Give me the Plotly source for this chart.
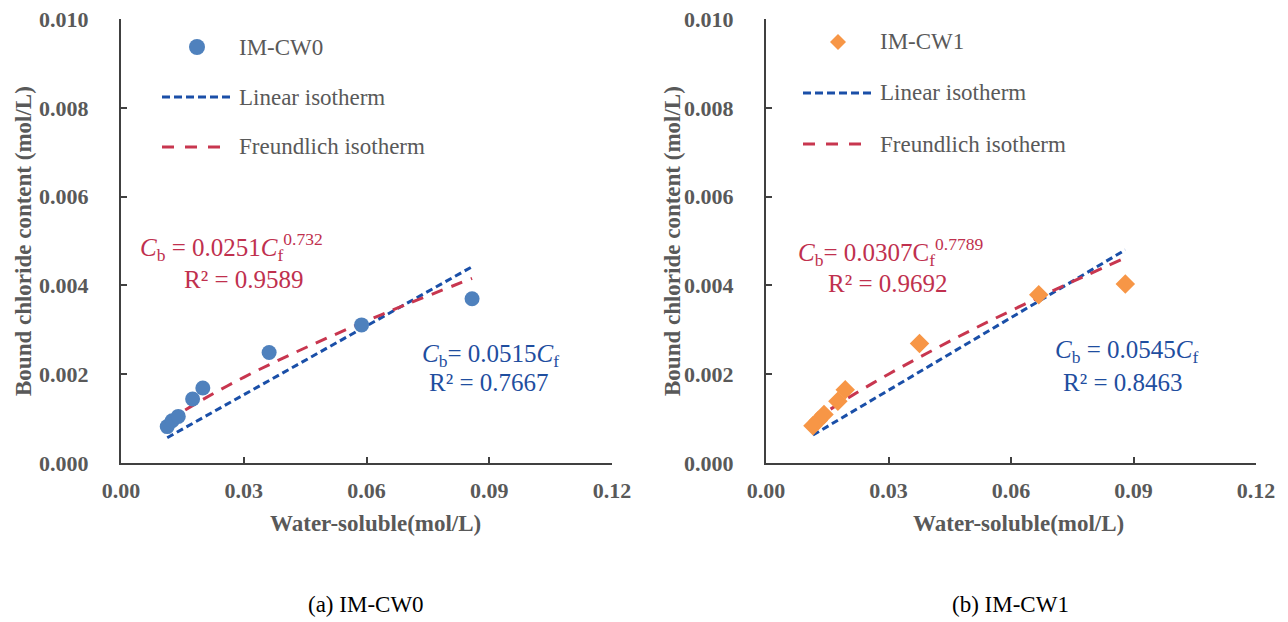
import plotly.graph_objects as go

W, H = 1288, 622

# ---------------- data ----------------
cw0_x = [0.0113, 0.0125, 0.0140, 0.0175, 0.0200, 0.0362, 0.0588, 0.0858]
cw0_y = [0.00082, 0.00095, 0.00105, 0.00144, 0.00169, 0.00249, 0.00311, 0.00370]
cw0_lin_x = [0.0113, 0.0858]
cw0_lin_y = [0.00057, 0.00442]
cw0_fr_x = [0.0113, 0.020, 0.030, 0.040, 0.050, 0.060, 0.070, 0.0858]
cw0_fr_y = [0.00094, 0.00143, 0.00193, 0.00238, 0.00280, 0.00320, 0.00358, 0.00416]

cw1_x = [0.0115, 0.0128, 0.0142, 0.0176, 0.0194, 0.0376, 0.0668, 0.0880]
cw1_y = [0.00084, 0.00096, 0.00109, 0.00139, 0.00165, 0.00269, 0.00379, 0.00403]
cw1_lin_x = [0.0115, 0.0880]
cw1_lin_y = [0.00063, 0.00480]
cw1_fr_x = [0.0115, 0.020, 0.030, 0.040, 0.050, 0.060, 0.070, 0.0880]
cw1_fr_y = [0.00095, 0.00146, 0.00200, 0.00250, 0.00298, 0.00343, 0.00387, 0.00462]

x_ticks = [0.00, 0.03, 0.06, 0.09, 0.12]
x_ticktext = ["0.00", "0.03", "0.06", "0.09", "0.12"]
y_ticks = [0.000, 0.002, 0.004, 0.006, 0.008, 0.010]
y_ticktext = ["0.000", "0.002", "0.004", "0.006", "0.008", "0.010"]

# ---------------- styles ----------------
SERIF = "Liberation Serif, Times New Roman, serif"
GRAY = "#595959"
AXC = "#404040"
BLUE_M = "#4F81BD"
ORANGE_M = "#F79646"
BLUE_L = "#1A4FA8"
RED_L = "#C8364F"
RED_T = "#C0304E"
BLUE_T = "#1F4E9F"
DASH_LIN = "7px,4px"
DASH_FR = "12px,9px"

def px(x):
    return x / W

def py(y):
    return 1 - y / H

fig = go.Figure()

def add_panel(xs, ys, lx, ly, fx, fy, xa, ya, color, symbol):
    fig.add_trace(go.Scatter(x=lx, y=ly, mode="lines", xaxis=xa, yaxis=ya,
                             line=dict(color=BLUE_L, width=3, dash=DASH_LIN),
                             showlegend=False))
    fig.add_trace(go.Scatter(x=fx, y=fy, mode="lines", xaxis=xa, yaxis=ya,
                             line=dict(color=RED_L, width=3, dash=DASH_FR, shape="spline"),
                             showlegend=False))
    fig.add_trace(go.Scatter(x=xs, y=ys, mode="markers", xaxis=xa, yaxis=ya,
                             marker=dict(color=color, size=15, symbol=symbol),
                             showlegend=False))

add_panel(cw0_x, cw0_y, cw0_lin_x, cw0_lin_y, cw0_fr_x, cw0_fr_y, "x", "y", BLUE_M, "circle")
add_panel(cw1_x, cw1_y, cw1_lin_x, cw1_lin_y, cw1_fr_x, cw1_fr_y, "x2", "y2", ORANGE_M, "diamond")

ydom = [py(463), py(19)]
axis_common = dict(showgrid=False, zeroline=False, showline=True, linecolor=AXC, linewidth=2,
                   ticks="inside", ticklen=6, tickwidth=1.5, tickcolor=AXC, automargin=False,
                   tickfont=dict(family=SERIF, size=22, color=GRAY, weight="bold"))

fig.update_layout(
    width=W, height=H, margin=dict(l=0, r=0, t=0, b=0, pad=0, autoexpand=False),
    paper_bgcolor="white", plot_bgcolor="white", showlegend=False,
    xaxis=dict(domain=[px(121), px(612)], range=[0, 0.12], tickvals=x_ticks, ticktext=x_ticktext,
               anchor="y", ticklabelstandoff=7, **axis_common),
    yaxis=dict(domain=ydom, range=[0, 0.010], tickvals=y_ticks, ticktext=y_ticktext,
               anchor="x", ticklabelstandoff=26, **axis_common),
    xaxis2=dict(domain=[px(766), px(1256)], range=[0, 0.12], tickvals=x_ticks, ticktext=x_ticktext,
                anchor="y2", ticklabelstandoff=7, **axis_common),
    yaxis2=dict(domain=ydom, range=[0, 0.010], tickvals=y_ticks, ticktext=y_ticktext,
                anchor="x2", ticklabelstandoff=26, **axis_common),
)

ann = []
shapes = []

def text(x, y, s, size, color, xanchor="center", bold=False, angle=0, family=SERIF):
    ann.append(dict(x=px(x), y=py(y), xref="paper", yref="paper", text=s, showarrow=False,
                    xanchor=xanchor, yanchor="middle", textangle=angle,
                    font=dict(family=family, size=size, color=color,
                              weight="bold" if bold else "normal")))

# axis titles
text(375, 523, "Water-soluble(mol/L)", 23, GRAY, bold=True)
text(1018, 523, "Water-soluble(mol/L)", 23, GRAY, bold=True)
text(23, 241, "Bound chloride content (mol/L)", 23, GRAY, bold=True, angle=-90)
text(672, 241, "Bound chloride content (mol/L)", 23, GRAY, bold=True, angle=-90)

# legends
def legend(x0, ys, marker_color, symbol, label):
    mx = x0 + 35
    r = 8
    if symbol == "circle":
        shapes.append(dict(type="circle", xref="paper", yref="paper",
                           x0=px(mx - r), x1=px(mx + r), y0=py(ys[0] + r), y1=py(ys[0] - r),
                           fillcolor=marker_color, line=dict(width=0)))
    else:
        path = "M {},{} L {},{} L {},{} L {},{} Z".format(
            px(mx - r), py(ys[0]), px(mx), py(ys[0] - r), px(mx + r), py(ys[0]), px(mx), py(ys[0] + r))
        shapes.append(dict(type="path", xref="paper", yref="paper", path=path,
                           fillcolor=marker_color, line=dict(width=0)))
    shapes.append(dict(type="line", xref="paper", yref="paper", x0=px(x0), x1=px(x0 + 70),
                       y0=py(ys[1]), y1=py(ys[1]), line=dict(color=BLUE_L, width=3, dash="8px,4px")))
    shapes.append(dict(type="line", xref="paper", yref="paper", x0=px(x0), x1=px(x0 + 60),
                       y0=py(ys[2]), y1=py(ys[2]), line=dict(color=RED_L, width=3, dash="12px,11px")))
    tx = x0 + 75
    text(tx, ys[0], label, 23, GRAY, xanchor="left")
    text(tx, ys[1], "Linear isotherm", 23, GRAY, xanchor="left")
    text(tx, ys[2], "Freundlich isotherm", 23, GRAY, xanchor="left")

legend(162, [47, 97, 147], BLUE_M, "circle", "IM-CW0")
legend(803, [42, 93, 144], ORANGE_M, "diamond", "IM-CW1")

# equations
text(231, 247, "<i>C</i><sub>b</sub> = 0.0251<i>C</i><sub>f</sub><sup>0.732</sup>", 25, RED_T)
text(244, 280, "R² = 0.9589", 25, RED_T)
text(490, 355, "<i>C</i><sub>b</sub>= 0.0515<i>C</i><sub>f</sub>", 25, BLUE_T)
text(489, 382, "R² = 0.7667", 25, BLUE_T)

text(890, 252, "<i>C</i><sub>b</sub>= 0.0307C<sub>f</sub><sup>0.7789</sup>", 25, RED_T)
text(888, 283, "R² = 0.9692", 25, RED_T)
text(1126, 351, "<i>C</i><sub>b</sub> = 0.0545<i>C</i><sub>f</sub>", 25, BLUE_T)
text(1123, 382, "R² = 0.8463", 25, BLUE_T)

# captions
text(366, 604, "(a) IM-CW0", 23, "#000000")
text(1010, 604, "(b) IM-CW1", 23, "#000000")

fig.update_layout(annotations=ann, shapes=shapes)
fig.write_html("out.html")
